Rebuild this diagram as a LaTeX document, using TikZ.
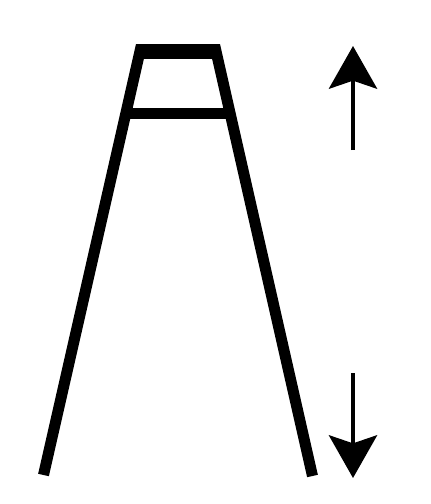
\documentclass[tikz,border=0pt]{standalone}
\usetikzlibrary{arrows.meta}

\begin{document}
\begin{tikzpicture}[
    x=0.75pt, y=-0.75pt,
    leg/.style={line width=8.25pt, line cap=butt},
    bar/.style={line width=8.25pt},
    topbar/.style={line width=11.5pt},
    motion/.style={line width=3.5pt, -{Stealth[length=32pt, width=36pt, inset=6pt]}}
]
\useasboundingbox (0,0) rectangle (430,504);

% Points
\coordinate (lb) at (43.5,475);
\coordinate (lt) at (143,38);
\coordinate (rb) at (312.5,476);
\coordinate (rt) at (213,38);
\coordinate (upS) at (353,150);
\coordinate (upT) at (353,46);
\coordinate (dnS) at (353,373);
\coordinate (dnT) at (353,478);

% Frame
\begin{scope}
\clip (0,44) rectangle (430,504);
\draw[leg] (lb) -- (lt);
\draw[leg] (rb) -- (rt);
\draw[topbar] (139.9,51.5) -- (216.1,51.5);
\draw[bar] (125.8,113.5) -- (230.1,113.5);
\end{scope}

% Arrows
\draw[motion] (upS) -- (upT);
\draw[motion] (dnS) -- (dnT);

\end{tikzpicture}
\end{document}
